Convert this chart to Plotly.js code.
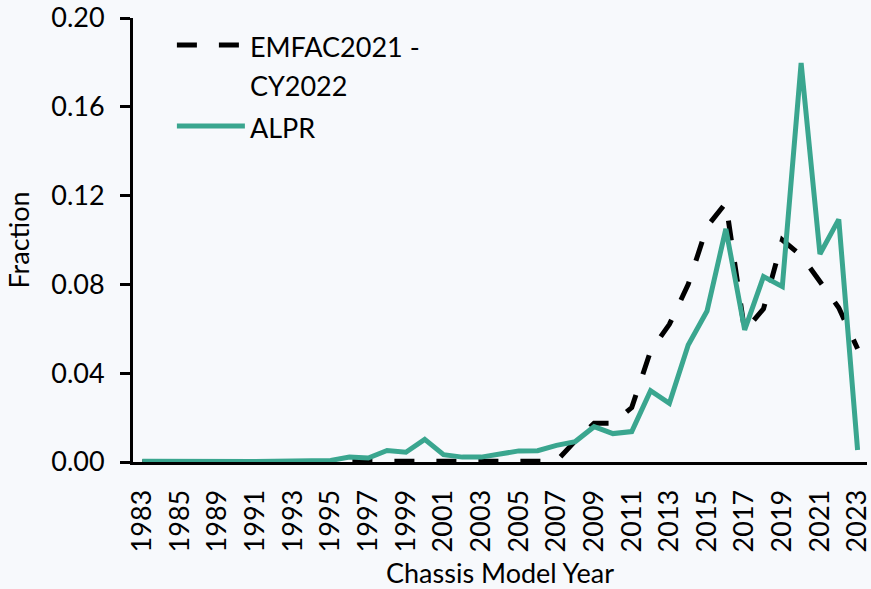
<!DOCTYPE html>
<html>
<head>
<meta charset="utf-8">
<script src="https://cdn.plot.ly/plotly-3.0.1.min.js"></script>
<style>html,body{margin:0;padding:0;background:#f7f9fc;}</style>
</head>
<body>
<div id="chart" style="width:871px;height:589px;"></div>
<script>
// Chassis model year categories
var years = ['1983','1984','1985','1987','1989','1990','1991','1992','1993','1994',
  '1995','1996','1997','1998','1999','2000','2001','2002','2003','2004',
  '2005','2006','2007','2008','2009','2010','2011','2012','2013','2014',
  '2015','2016','2017','2018','2019','2020','2021','2022','2023'];

// Tick labels shown on the x axis
var tickLabels = ['1983','1985','1989','1991','1993','1995','1997','1999','2001','2003',
  '2005','2007','2009','2011','2013','2015','2017','2019','2021','2023'];

// EMFAC2021 - CY2022 fraction
var emfac = [0.0001,0.0001,0.0001,0.0001,0.0001,0.0001,0.0001,0.0001,0.0001,0.0001,
  0.0001,0.0001,0.0001,0.0001,0.0001,0.0001,0.0001,0.0001,0.0001,0.0001,
  0.0001,0.0001,0.0004,0.0095,0.0175,0.0175,0.0245,0.0500,0.0620,0.0800,
  0.1060,0.1167,0.0590,0.0690,0.1000,0.0930,0.0810,0.0695,0.0510];

// ALPR fraction
var alpr = [0.0003,0.0002,0.0002,0.0002,0.0002,0.0002,0.0002,0.0003,0.0006,0.0005,
  0.0007,0.0022,0.0018,0.0052,0.0044,0.0102,0.0033,0.0022,0.0022,0.0036,
  0.0050,0.0051,0.0075,0.0092,0.0159,0.0128,0.0137,0.0321,0.0264,0.0527,
  0.0680,0.1050,0.0595,0.0835,0.0790,0.1797,0.0937,0.1093,0.0054];

var FONT = 'Lato, "Open Sans", sans-serif';
var FS = 27;

// boundary tick positions: left edge of each labelled category, every 2 categories
var boundaryTicks = [];
for (var i = 0; i < years.length; i += 2) boundaryTicks.push(i - 0.5);

function legendName(lines) {
  return lines.map(function (s) {
    return '<span style="font-size:' + FS + 'px">' + s + '</span>';
  }).join('<br>');
}

var traces = [
  {
    x: years, y: emfac, type: 'scatter', mode: 'lines',
    name: legendName(['EMFAC2021 -', 'CY2022']),
    line: {color: '#000000', width: 5, dash: '20px,22px'}
  },
  {
    x: years, y: alpr, type: 'scatter', mode: 'lines',
    name: legendName(['ALPR']),
    line: {color: '#3AA68F', width: 5}
  }
];

var layout = {
  width: 871, height: 589,
  margin: {l: 133, r: 4, t: 18, b: 127, pad: 0},
  paper_bgcolor: '#f7f9fc',
  plot_bgcolor: 'rgba(0,0,0,0)',
  font: {family: FONT, size: FS, color: '#000000'},
  showlegend: true,
  legend: {
    x: 0.053, y: 0.998, xanchor: 'left', yanchor: 'top',
    bgcolor: 'rgba(0,0,0,0)', borderwidth: 0,
    font: {family: FONT, size: 30, color: '#000000'},
    itemwidth: 68, valign: 'top', tracegroupgap: 0
  },
  xaxis: {
    type: 'category',
    categoryorder: 'array', categoryarray: years,
    range: [-0.5, years.length - 0.5],
    tickmode: 'array', tickvals: tickLabels, ticktext: tickLabels,
    ticks: '', tickangle: -90, ticklabelstandoff: 14,
    tickfont: {family: FONT, size: FS, color: '#000000'},
    showline: true, linecolor: '#000000', linewidth: 3,
    showgrid: false, zeroline: false,
    title: {text: 'Chassis Model Year', font: {family: FONT, size: FS, color: '#000000'}, standoff: 20}
  },
  xaxis2: {
    overlaying: 'x', anchor: 'y', side: 'bottom',
    range: [-0.5, years.length - 0.5],
    tickmode: 'array', tickvals: boundaryTicks,
    ticks: 'outside', ticklen: 9, tickwidth: 3, tickcolor: '#000000',
    showticklabels: false, showline: false, showgrid: false, zeroline: false
  },
  yaxis: {
    range: [0, 0.2], dtick: 0.04, tick0: 0, tickformat: '.2f',
    ticks: 'outside', ticklen: 10, tickwidth: 3, tickcolor: '#000000',
    ticklabelstandoff: 10,
    tickfont: {family: FONT, size: FS, color: '#000000'},
    showline: true, linecolor: '#000000', linewidth: 3,
    showgrid: false, zeroline: false,
    title: {text: 'Fraction', font: {family: FONT, size: FS, color: '#000000'}, standoff: 14}
  }
};

Plotly.newPlot('chart', traces, layout, {displayModeBar: false, staticPlot: true});
</script>
</body>
</html>
